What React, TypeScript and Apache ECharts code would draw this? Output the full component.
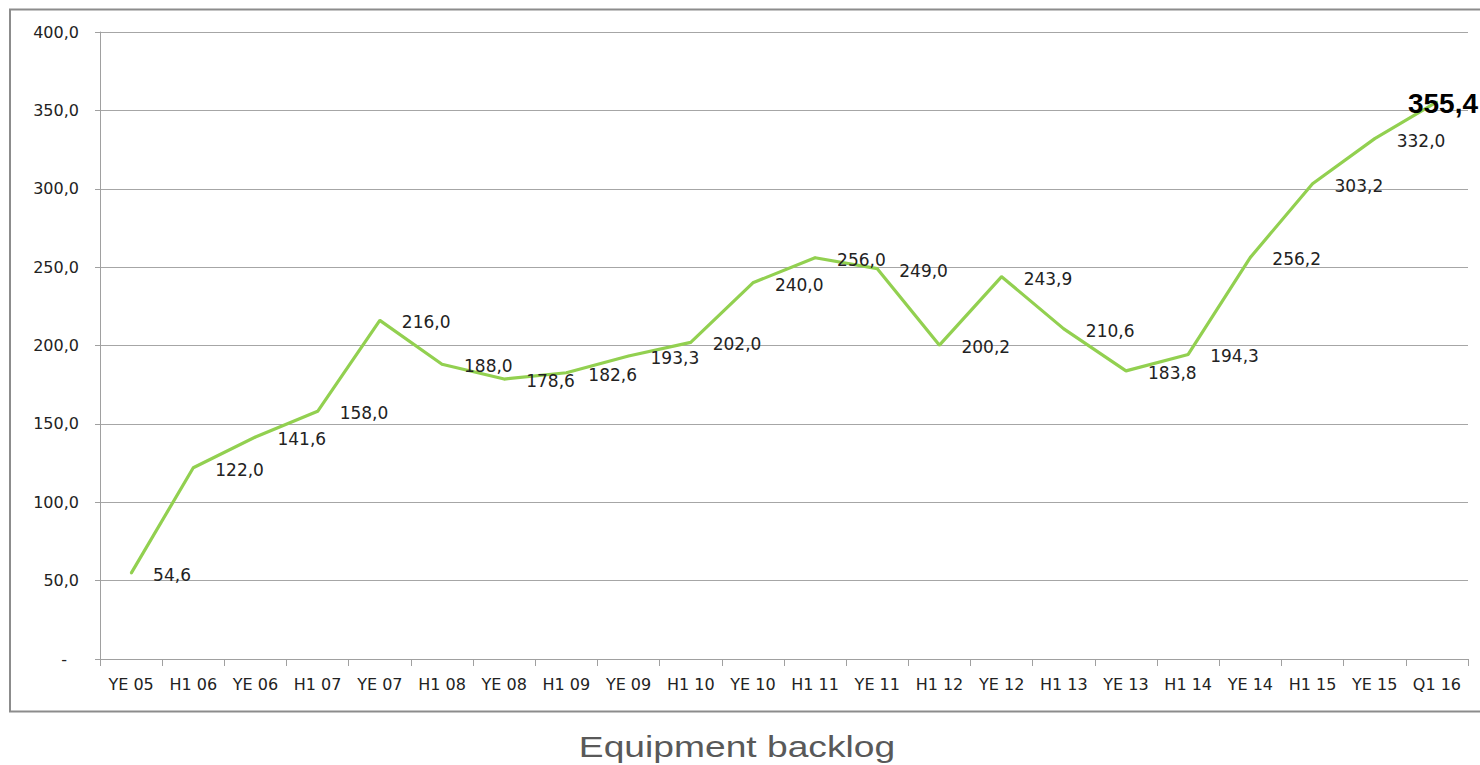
import React, { useEffect, useRef } from "react";
import * as echarts from "echarts";

const categories = [
  "YE 05", "H1 06", "YE 06", "H1 07", "YE 07", "H1 08", "YE 08", "H1 09", "YE 09", "H1 10", "YE 10",
  "H1 11", "YE 11", "H1 12", "YE 12", "H1 13", "YE 13", "H1 14", "YE 14", "H1 15", "YE 15", "Q1 16",
];
const backlog = [
  54.6, 122.0, 141.6, 158.0, 216.0, 188.0, 178.6, 182.6, 193.3, 202.0, 240.0,
  256.0, 249.0, 200.2, 243.9, 210.6, 183.8, 194.3, 256.2, 303.2, 332.0, 355.4,
];
const yTicks = { min: 0, max: 400, interval: 50 };
const titleText = "Equipment backlog";

const fmt = (v: number) => v.toFixed(1).replace(".", ",");

export default function App() {
  const ref = useRef<HTMLDivElement>(null);
  useEffect(() => {
    document.body.style.margin = "0";
    const chart = echarts.init(ref.current!, null, { renderer: "svg" });
    const last = backlog.length - 1;
    const data = backlog.map((v, i) =>
      i === last
        ? {
            value: v,
            label: {
              position: [-28, 1],
              align: "left",
              verticalAlign: "middle",
              fontSize: 28,
              fontWeight: "bold",
              color: "#000",
              fontFamily: "Liberation Sans",
            },
          }
        : v
    );
    chart.setOption({
      animation: false,
      backgroundColor: "#fff",
      graphic: [
        {
          type: "rect",
          shape: { x: 10, y: 9.5, width: 1490, height: 702 },
          style: { fill: "none", stroke: "#8c8c8c", lineWidth: 2 },
          silent: true,
        },
        {
          type: "text",
          x: 737,
          y: 746,
          scaleX: 1.24,
          style: {
            text: titleText,
            fontFamily: "Liberation Sans",
            fontSize: 30,
            fill: "#595959",
            align: "center",
            verticalAlign: "middle",
          },
        },
      ],
      grid: { left: 100, right: 12, top: 32, bottom: 106, containLabel: false },
      xAxis: {
        type: "category",
        data: categories,
        boundaryGap: true,
        axisLine: { show: true, lineStyle: { color: "#a0a0a0", width: 1 } },
        axisTick: { show: true, length: 7, alignWithLabel: false, lineStyle: { color: "#a0a0a0" } },
        axisLabel: {
          interval: 0,
          margin: 17,
          fontFamily: "DejaVu Sans",
          fontSize: 16,
          color: "#222",
        },
        splitLine: { show: false },
      },
      yAxis: {
        type: "value",
        min: yTicks.min,
        max: yTicks.max,
        interval: yTicks.interval,
        axisLine: { show: true, lineStyle: { color: "#a0a0a0", width: 1 } },
        axisTick: { show: true, length: 5, lineStyle: { color: "#a0a0a0" } },
        axisLabel: {
          margin: 21,
          fontFamily: "DejaVu Sans",
          fontSize: 16,
          color: "#222",
          formatter: (v: number) => (v === 0 ? "{d|-}" : fmt(v)),
          rich: { d: { padding: [0, 12, 0, 0], fontFamily: "DejaVu Sans", fontSize: 16, color: "#222" } },
        },
        splitLine: { show: true, lineStyle: { color: "#a6a6a6", width: 1 } },
      },
      series: [
        {
          type: "line",
          data,
          showSymbol: true,
          symbol: "circle",
          symbolSize: 2,
          itemStyle: { color: "#92D050" },
          lineStyle: { color: "#92D050", width: 3.2 },
          label: {
            show: true,
            position: "right",
            distance: 21,
            offset: [0, 2],
            fontFamily: "DejaVu Sans",
            fontSize: 17,
            color: "#222",
            formatter: (p: any) => fmt(p.value),
          },
        },
      ],
    });
    return () => chart.dispose();
  }, []);
  return (
    <div
      ref={ref}
      style={{ position: "fixed", left: 0, top: 0, width: 1480, height: 765 }}
    />
  );
}
